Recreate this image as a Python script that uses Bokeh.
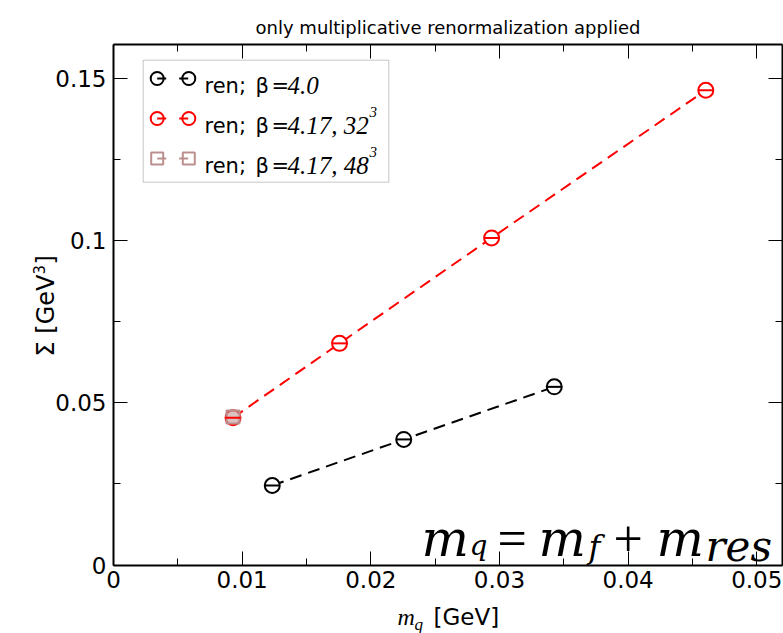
import math
from bokeh.plotting import figure
from bokeh.models import Range1d, LinearAxis, FixedTicker, Label, BoxAnnotation, CustomJSTickFormatter
from bokeh.embed import file_html
from bokeh.resources import INLINE

# ---------------- data ----------------
black_x = [0.01234, 0.02256, 0.03426]
black_y = [0.0245, 0.0387, 0.0549]
red_x = [0.00929, 0.01757, 0.02939, 0.04604]
red_y = [0.0454, 0.0683, 0.1008, 0.1463]
brown_x = [0.00929]
brown_y = [0.0456]

x_ticks = [0, 0.01, 0.02, 0.03, 0.04, 0.05]
x_tick_labels = ["0", "0.01", "0.02", "0.03", "0.04", "0.05"]
x_minor = [0.005, 0.015, 0.025, 0.035, 0.045]
y_ticks = [0, 0.05, 0.1, 0.15]
y_tick_labels = ["0", "0.05", "0.1", "0.15"]
y_minor = [0.025, 0.075, 0.125]

legend_prefix = ["ren;", "ren;", "ren;"]
legend_values = ["4.0", "4.17, 32", "4.17, 48"]
legend_sup = ["", "3", "3"]
legend_colors = ["black", "red", "rosybrown"]
legend_markers = ["circle", "circle", "square"]

title_text = "only multiplicative renormalization applied"

X_MAX = 0.052
Y_MAX = 0.1604

# ---------------- layout (page pixels) ----------------
W, H = 783, 633
BOX_L, BOX_R, BOX_T, BOX_B = 113.0, 782.0, 44.0, 564.5
SX = (BOX_R - BOX_L) / X_MAX
SY = (BOX_B - BOX_T) / Y_MAX
X0 = -BOX_L / SX
X1 = (W - BOX_L) / SX
Y0 = -(H - BOX_B) / SY
Y1 = Y_MAX + BOX_T / SY

SANS = "DejaVu Sans"
SERIF = "Liberation Serif"
DSERIF = "DejaVu Serif"

p = figure(width=W, height=H,
           x_range=Range1d(X0, X1), y_range=Range1d(Y0, Y1),
           output_backend="svg", toolbar_location=None,
           min_border=0, min_border_left=0, min_border_right=0,
           min_border_top=0, min_border_bottom=0,
           x_axis_location=None, y_axis_location=None)
p.xgrid.visible = False
p.ygrid.visible = False
p.outline_line_color = None
p.background_fill_color = "white"
p.border_fill_color = "white"

def style_axis(ax, labels):
    ax.axis_line_width = 2
    ax.axis_line_color = "black"
    ax.major_tick_in = 14
    ax.major_tick_out = 0
    ax.minor_tick_in = 7
    ax.minor_tick_out = 0
    ax.major_tick_line_color = "black"
    ax.minor_tick_line_color = "black"
    ax.major_tick_line_width = 1
    ax.minor_tick_line_width = 1
    if labels:
        ax.major_label_text_font = SANS
        ax.major_label_text_font_size = "23px"
        ax.major_label_text_color = "black"
    else:
        ax.formatter = CustomJSTickFormatter(code="return ''")
        ax.major_label_standoff = 0

xt = FixedTicker(ticks=x_ticks, minor_ticks=x_minor)
yt = FixedTicker(ticks=y_ticks, minor_ticks=y_minor)

bottom = LinearAxis(ticker=xt, fixed_location=0, bounds=(0, X_MAX))
bottom.major_label_overrides = dict(zip(x_ticks, x_tick_labels))
style_axis(bottom, True)
bottom.major_label_standoff = 6
left = LinearAxis(ticker=yt, fixed_location=0, bounds=(0, Y_MAX))
left.major_label_overrides = dict(zip(y_ticks, y_tick_labels))
style_axis(left, True)
left.major_label_standoff = 7
top = LinearAxis(ticker=xt, fixed_location=Y_MAX, bounds=(0, X_MAX))
style_axis(top, False)
right = LinearAxis(ticker=yt, fixed_location=X_MAX, bounds=(0, Y_MAX))
style_axis(right, False)
p.add_layout(bottom, "below")
p.add_layout(left, "left")
p.add_layout(top, "above")
p.add_layout(right, "right")

# ---------------- data glyphs ----------------
p.line(black_x, black_y, line_color="black", line_width=2, line_dash="12 7")
p.line(red_x, red_y, line_color="red", line_width=2, line_dash="12 7")
p.scatter(black_x, black_y, marker="circle", size=15, fill_color="white", line_color="black", line_width=2)
p.scatter(black_x, black_y, marker="dash", size=15, line_color="black", line_width=2)
p.scatter(red_x, red_y, marker="circle", size=15, fill_color="white", line_color="red", line_width=2)
p.scatter(brown_x, brown_y, marker="square", size=13, fill_color="rosybrown", fill_alpha=0.55,
          line_color="rosybrown", line_width=2)
p.scatter(red_x, red_y, marker="dash", size=15, line_color="red", line_width=2)

# ---------------- helpers (page px -> frame coords) ----------------
def fx(px):
    return px

def fy(py):
    return H - py

def dx(px):
    return X0 + px / SX

def dy(py):
    return Y1 - py / SY

def text(t, px, py, font=SANS, size="23px", style="normal", color="black",
         align="left", baseline="alphabetic", angle=0.0):
    p.add_layout(Label(x=fx(px), y=fy(py), x_units="screen", y_units="screen",
                       text=t, text_font=font, text_font_size=size, text_font_style=style,
                       text_color=color, text_align=align, text_baseline=baseline,
                       angle=angle))

# ---------------- title ----------------
text(title_text, (BOX_L + BOX_R) / 2, 26.5, size="18px", align="center")

# ---------------- axis labels ----------------
text("m", 397, 616, font=SERIF, size="24px", style="italic")
text("q", 414, 624, font=SERIF, size="17px", style="italic")
text("[GeV]", 433, 616, size="23px")

rot = math.pi / 2
text("\u03a3 [GeV", 45, 356, size="24px", angle=rot)
text("3", 38, 274, size="15px", angle=rot)
text("]", 45, 264, size="24px", angle=rot)

# ---------------- formula ----------------
text("m", 421, 538, font=DSERIF, size="50px", style="italic")
text("q", 469, 545, font=DSERIF, size="28px", style="italic")
text("=", 497, 538, font=SERIF, size="52px")
text("m", 538, 538, font=DSERIF, size="50px", style="italic")
text("f", 588, 546, font=DSERIF, size="32px", style="italic")
text("+", 613, 538, font=SERIF, size="52px")
text("m", 656, 538, font=DSERIF, size="50px", style="italic")
text("res", 705, 546, font=DSERIF, size="42px", style="italic")

# ---------------- legend ----------------
box = BoxAnnotation(left=fx(142.7), right=fx(388.3), top=fy(59.7), bottom=fy(181.7),
                    left_units="screen", right_units="screen", top_units="screen", bottom_units="screen",
                    fill_color="white", fill_alpha=1.0, line_color="#444444", line_width=1)
p.add_layout(box)

row_y = [78, 118, 158]
c1, c2 = 156.7, 188.3
for i in range(3):
    ry = row_y[i]
    col = legend_colors[i]
    r1 = p.line([dx(c1), dx(c2)], [dy(ry), dy(ry)], line_color=col, line_width=2, line_dash="9 13")
    r1.level = "overlay"
    r2 = p.scatter([dx(c1), dx(c2)], [dy(ry), dy(ry)], marker=legend_markers[i],
                   size=13 if legend_markers[i] == "circle" else 12,
                   fill_color=None, line_color=col, line_width=2)
    r2.level = "overlay"
    text(legend_prefix[i], 204, ry + 7, size="21px")
    text("\u03b2", 255, ry + 7, size="21px")
    text("=", 271, ry + 7, size="21px")
    text(legend_values[i], 287, ry + 7, font=SERIF, size="25px", style="italic")
    if legend_sup[i]:
        text(legend_sup[i], 369, ry - 7, font=SERIF, size="15px", style="italic")

open("out.html", "w").write(file_html(p, INLINE))
